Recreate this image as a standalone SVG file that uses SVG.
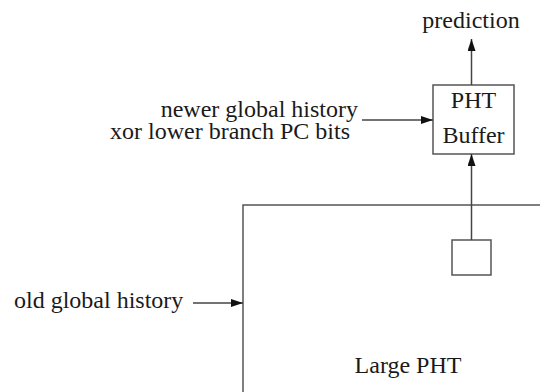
<svg xmlns="http://www.w3.org/2000/svg" width="540" height="392" viewBox="0 0 540 392">
<defs>
<style>
text{font-family:"Liberation Serif","Times New Roman",serif;font-size:24px;fill:#1a1a1a}
.box{fill:none;stroke:#555;stroke-width:1.5}
.conn{fill:none;stroke:#444;stroke-width:1.5}
</style>
<marker id="ah" viewBox="0 0 12 8" refX="12" refY="4" markerWidth="12" markerHeight="8" markerUnits="userSpaceOnUse" orient="auto">
<path d="M0,0 L12,4 L0,8 Z" fill="#111"/>
</marker>
</defs>
<rect width="540" height="392" fill="#fff"/>
<g id="large-pht">
<rect class="box" x="243" y="205" width="320" height="220"/>
<text x="408" y="373" text-anchor="middle">Large PHT</text>
</g>
<g id="entry">
<rect class="box" x="452" y="240" width="39" height="35"/>
</g>
<g id="pht-buffer">
<rect class="box" x="433" y="85" width="81" height="69"/>
<text x="473.5" y="108" text-anchor="middle">PHT</text>
<text x="473.5" y="143" text-anchor="middle">Buffer</text>
</g>
<g id="prediction">
<text x="471" y="28" text-anchor="middle">prediction</text>
</g>
<g id="newer-history">
<text x="358" y="117" text-anchor="end">newer global history</text>
<text x="350" y="139" text-anchor="end">xor lower branch PC bits</text>
</g>
<g id="old-history">
<text x="14" y="308">old global history</text>
</g>
<g id="connectors">
<line class="conn" x1="471.5" y1="85" x2="471.5" y2="39" marker-end="url(#ah)"/>
<line class="conn" x1="471.5" y1="240" x2="471.5" y2="154" marker-end="url(#ah)"/>
<line class="conn" x1="362" y1="120" x2="433" y2="120" marker-end="url(#ah)"/>
<line class="conn" x1="193" y1="303" x2="243" y2="303" marker-end="url(#ah)"/>
</g>
</svg>
